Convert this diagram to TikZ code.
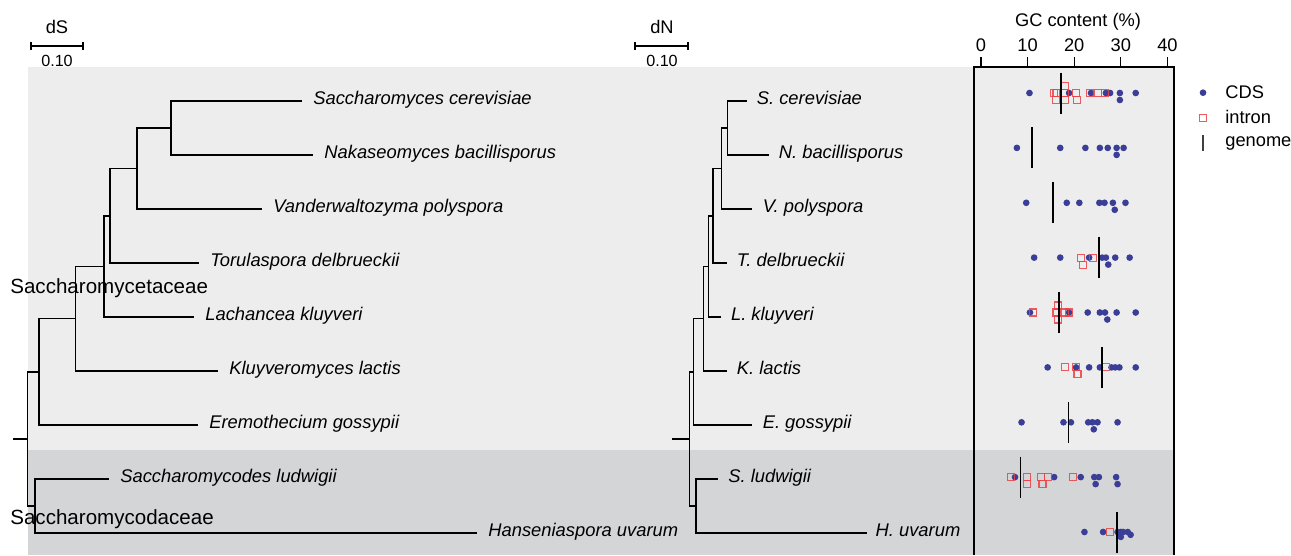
\documentclass[tikz,border=0pt]{standalone}
\usepackage{fontspec}
\setmainfont{Liberation Sans}
\usetikzlibrary{calc}

\definecolor{cdsblue}{RGB}{58,62,150}
\definecolor{intronred}{RGB}{236,64,68}
\definecolor{bandlight}{RGB}{237,237,237}
\definecolor{banddark}{RGB}{212,213,215}

\begin{document}
\begin{tikzpicture}
[x=0.02cm,y=-0.02cm,
branch/.style={line width=0.85pt},
species/.style={anchor=base west,inner sep=0pt,font=\fontsize{10.45}{12.5}\selectfont\itshape},
family/.style={anchor=base west,inner sep=0pt,font=\fontsize{11.7}{14}\selectfont},
axistext/.style={inner sep=0pt,font=\fontsize{10.4}{12}\selectfont},
smalltext/.style={inner sep=0pt,font=\fontsize{9.2}{11}\selectfont},
cdsdot/.style={fill=cdsblue},
intronbox/.style={draw=intronred,line width=0.6pt,draw opacity=0.85},
genome/.style={line width=0.95pt},]

%Page size
\useasboundingbox (0,0) rectangle (1291,555);

%Position of the GC axis
\def\xo{981}
\def\xs{4.66}

%Background bands
\fill[bandlight] (28,67) rectangle (1174,450);
\fill[banddark] (28,450) rectangle (1174,555);

%Scale bars
\node[axistext] (dS) at (57,27) {dS};
\draw[branch] (31,42) -- (31,50) (31,46) -- (83,46) (83,42) -- (83,50);
\node[smalltext] (dSbar) at (57,61) {0.10};
\node[axistext] (dN) at (662,27) {dN};
\draw[branch] (635,42) -- (635,50) (635,46) -- (688,46) (688,42) -- (688,50);
\node[smalltext] (dNbar) at (662,61) {0.10};

%Tips of the dS tree
\coordinate (Sc) at (302,101);
\coordinate (Nb) at (313,155);
\coordinate (Vp) at (262,209);
\coordinate (Td) at (199,263);
\coordinate (Lk) at (194,317);
\coordinate (Kl) at (218,371);
\coordinate (Eg) at (198,425);
\coordinate (Sl) at (109,479);
\coordinate (Hu) at (477,533);

%Inner nodes of the dS tree
\coordinate (A) at (171,128);
\coordinate (B) at (137,168.5);
\coordinate (C) at (110,215.8);
\coordinate (D) at (104,266.4);
\coordinate (E) at (75.7,318.7);
\coordinate (F) at (39,371.8);
\coordinate (G) at (35,506);
\coordinate (R) at (27.3,438.9);
\coordinate (R0) at (13.3,438.9);

%Drawing dS branches
\draw[branch] (A) |- (Sc) (A) |- (Nb);
\draw[branch] (B) |- (A) (B) |- (Vp);
\draw[branch] (C) |- (B) (C) |- (Td);
\draw[branch] (D) |- (C) (D) |- (Lk);
\draw[branch] (E) |- (D) (E) |- (Kl);
\draw[branch] (F) |- (E) (F) |- (Eg);
\draw[branch] (G) |- (Sl) (G) |- (Hu);
\draw[branch] (R) |- (F) (R) |- (G);
\draw[branch] (R0) -- (R);

%Labeling dS tips
\node[species] (lSc) at ($(Sc)+(11,3.5)$) {Saccharomyces cerevisiae};
\node[species] (lNb) at ($(Nb)+(11,3.5)$) {Nakaseomyces bacillisporus};
\node[species] (lVp) at ($(Vp)+(11,3.5)$) {Vanderwaltozyma polyspora};
\node[species] (lTd) at ($(Td)+(11,3.5)$) {Torulaspora delbrueckii};
\node[species] (lLk) at ($(Lk)+(11,3.5)$) {Lachancea kluyveri};
\node[species] (lKl) at ($(Kl)+(11,3.5)$) {Kluyveromyces lactis};
\node[species] (lEg) at ($(Eg)+(11,3.5)$) {Eremothecium gossypii};
\node[species] (lSl) at ($(Sl)+(11,3.5)$) {Saccharomycodes ludwigii};
\node[species] (lHu) at ($(Hu)+(11,3.5)$) {Hanseniaspora uvarum};

%Family names
\node[family] (cetaceae) at (10,293) {Saccharomycetaceae};
\node[family] (codaceae) at (10,524) {Saccharomycodaceae};

%Tips of the dN tree
\coordinate (nSc) at (746.5,101);
\coordinate (nNb) at (768.5,155);
\coordinate (nVp) at (752.4,209);
\coordinate (nTd) at (726.5,263);
\coordinate (nLk) at (720.7,317);
\coordinate (nKl) at (726.5,371);
\coordinate (nEg) at (752.4,425);
\coordinate (nSl) at (718,479);
\coordinate (nHu) at (867.3,533);

%Inner nodes of the dN tree
\coordinate (nA) at (727.5,128);
\coordinate (nB) at (721.4,168.5);
\coordinate (nC) at (712.8,215.8);
\coordinate (nD) at (708.7,266.4);
\coordinate (nE) at (703.6,318.7);
\coordinate (nF) at (693.4,371.8);
\coordinate (nG) at (695.8,506);
\coordinate (nR) at (689.3,438.9);
\coordinate (nR0) at (672.2,438.9);

%Drawing dN branches
\draw[branch] (nA) |- (nSc) (nA) |- (nNb);
\draw[branch] (nB) |- (nA) (nB) |- (nVp);
\draw[branch] (nC) |- (nB) (nC) |- (nTd);
\draw[branch] (nD) |- (nC) (nD) |- (nLk);
\draw[branch] (nE) |- (nD) (nE) |- (nKl);
\draw[branch] (nF) |- (nE) (nF) |- (nEg);
\draw[branch] (nG) |- (nSl) (nG) |- (nHu);
\draw[branch] (nR) |- (nF) (nR) |- (nG);
\draw[branch] (nR0) -- (nR);

%Labeling dN tips
\node[species] (mSc) at ($(nSc)+(10,3.5)$) {S. cerevisiae};
\node[species] (mNb) at ($(nNb)+(10,3.5)$) {N. bacillisporus};
\node[species] (mVp) at ($(nVp)+(10,3.5)$) {V. polyspora};
\node[species] (mTd) at ($(nTd)+(10,3.5)$) {T. delbrueckii};
\node[species] (mLk) at ($(nLk)+(10,3.5)$) {L. kluyveri};
\node[species] (mKl) at ($(nKl)+(10,3.5)$) {K. lactis};
\node[species] (mEg) at ($(nEg)+(10,3.5)$) {E. gossypii};
\node[species] (mSl) at ($(nSl)+(10,3.5)$) {S. ludwigii};
\node[species] (mHu) at ($(nHu)+(8,3.5)$) {H. uvarum};

%GC content panel and axis
\draw[line width=0.6pt] (974,555) -- (974,67) -- (1174,67) -- (1174,555);
\foreach \t in {0,10,20,30,40}{
  \draw[line width=0.6pt] ({\xo+\xs*\t},67) -- ({\xo+\xs*\t},57);
  \node[axistext] at ({\xo+\xs*\t},45) {\t};
}
\node[axistext] (gctitle) at (1078,22) {GC content (\%)};

%CDS points
\foreach \v/\o in {10.4/0,18.9/0,23.6/0,26.8/0,27.7/0,29.8/0,33.2/0,29.8/1}
  \fill[cdsdot] ({\xo+\xs*\v},{93+7*\o}) circle (1.9pt);
\foreach \v/\o in {7.7/0,17.0/0,22.4/0,25.5/0,27.2/0,29.1/0,30.6/0,29.1/1}
  \fill[cdsdot] ({\xo+\xs*\v},{147.9+7*\o}) circle (1.9pt);
\foreach \v/\o in {9.7/0,18.4/0,21.1/0,25.4/0,26.5/0,28.3/0,31.0/0,28.7/1}
  \fill[cdsdot] ({\xo+\xs*\v},{202.8+7*\o}) circle (1.9pt);
\foreach \v/\o in {11.4/0,17.0/0,23.2/0,26.0/0,26.8/0,28.8/0,31.9/0,27.3/1}
  \fill[cdsdot] ({\xo+\xs*\v},{257.6+7*\o}) circle (1.9pt);
\foreach \v/\o in {10.5/0,18.9/0,22.9/0,25.5/0,26.6/0,29.1/0,33.2/0,27.1/1}
  \fill[cdsdot] ({\xo+\xs*\v},{312.5+7*\o}) circle (1.9pt);
\foreach \v/\o in {14.3/0,20.4/0,23.2/0,25.5/0,28.0/0,28.8/0,29.7/0,33.2/0}
  \fill[cdsdot] ({\xo+\xs*\v},{367.4+7*\o}) circle (1.9pt);
\foreach \v/\o in {8.7/0,17.7/0,19.3/0,23.0/0,23.9/0,25.0/0,29.3/0,24.2/1}
  \fill[cdsdot] ({\xo+\xs*\v},{422.3+7*\o}) circle (1.9pt);
\foreach \v/\o in {7.3/0,15.7/0,21.4/0,24.3/0,25.3/0,29.0/0,24.6/1,29.3/1}
  \fill[cdsdot] ({\xo+\xs*\v},{477.1+7*\o}) circle (1.9pt);
\foreach \v/\o in {22.2/0,26.2/0,29.3/0,30.0/0,30.5/0,31.5/0,29.8/0.4,32.1/0.4,30.0/0.7}
  \fill[cdsdot] ({\xo+\xs*\v},{532+7*\o}) circle (1.9pt);

%Intron points
\foreach \v/\o in {15.7/0,16.2/0,18.0/0,20.4/0,23.4/0,25.2/0,26.6/0,18.0/-1,16.1/1,18.0/1,20.5/1}
  \draw[intronbox] ({\xo+\xs*\v},{93+7*\o}) +(-3.5,-3.5) rectangle +(3.5,3.5);
\foreach \v/\o in {21.5/0,24.1/0,21.8/1}
  \draw[intronbox] ({\xo+\xs*\v},{257.6+7*\o}) +(-3.5,-3.5) rectangle +(3.5,3.5);
\foreach \v/\o in {11.2/0,16.2/0,18.0/0,18.9/0,16.5/-1,16.5/1}
  \draw[intronbox] ({\xo+\xs*\v},{312.5+7*\o}) +(-3.5,-3.5) rectangle +(3.5,3.5);
\foreach \v/\o in {18.0/0,20.4/0,26.8/0,20.7/1}
  \draw[intronbox] ({\xo+\xs*\v},{367.4+7*\o}) +(-3.5,-3.5) rectangle +(3.5,3.5);
\foreach \v/\o in {6.4/0,9.8/0,12.8/0,14.4/0,19.8/0,9.9/1,13.2/1}
  \draw[intronbox] ({\xo+\xs*\v},{477.1+7*\o}) +(-3.5,-3.5) rectangle +(3.5,3.5);
\draw[intronbox] ({\xo+\xs*27.7},532) +(-3.5,-3.5) rectangle +(3.5,3.5);

%Genome GC bars
\foreach \y/\g in {93/17.1,147.9/10.9,202.8/15.4,257.6/25.3,312.5/16.7,367.4/26.0,422.3/18.8,477.1/8.5,532/29.2}
  \draw[genome] ({\xo+\xs*\g},{\y-20.5}) -- ({\xo+\xs*\g},{\y+20.5});

%Legend
\fill[cdsdot] (1203,92.7) circle (1.9pt);
\node[axistext,anchor=west] (legCDS) at (1225,92.7) {CDS};
\draw[intronbox] (1203,118) +(-3.5,-3.5) rectangle +(3.5,3.5);
\node[axistext,anchor=west] (legintron) at (1225,117) {intron};
\draw[line width=0.6pt,black!75] (1203,135) -- (1203,151);
\node[axistext,anchor=west] (leggenome) at (1225,143) {genome};

\end{tikzpicture}
\end{document}
